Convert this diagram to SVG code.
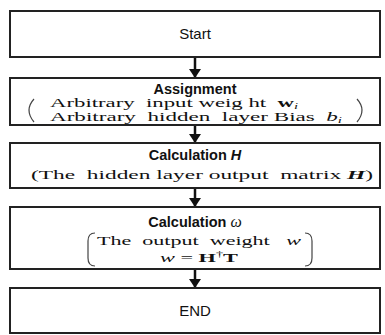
<svg xmlns="http://www.w3.org/2000/svg" width="385" height="335" viewBox="0 0 385 335">
<defs>
<marker id="ah" markerWidth="9" markerHeight="12" refX="9" refY="6" orient="auto" markerUnits="userSpaceOnUse">
<path d="M0,0 L9,6 L0,12 Z" fill="#111"/>
</marker>
</defs>
<style>
.box{fill:#fff;stroke:#222;stroke-width:2}
.sans{font-family:"Liberation Sans",Arial,sans-serif;fill:#111;text-anchor:middle}
.serif{font-family:"Liberation Serif","Times New Roman",serif;fill:#111;font-size:12.5px}
.b{font-weight:bold}
.conn{stroke:#111;stroke-width:2.5;fill:none}
.paren{stroke:#444;stroke-width:1.2;fill:none}
</style>
<g id="connectors">
<path class="conn" d="M195,57 V78" marker-end="url(#ah)"/>
<path class="conn" d="M195,125 V143" marker-end="url(#ah)"/>
<path class="conn" d="M195,188 V207" marker-end="url(#ah)"/>
<path class="conn" d="M195,269 V288" marker-end="url(#ah)"/>
</g>
<g id="start">
<rect class="box" x="10" y="11" width="370" height="46"/>
<text class="sans" x="195" y="39" font-size="15">Start</text>
</g>
<g id="assignment">
<rect class="box" x="10" y="78" width="370" height="47"/>
<text class="sans b" x="195" y="94" font-size="14.5">Assignment</text>
<path class="paren" d="M34,99 Q24,110 34,122"/>
<path class="paren" d="M357,99 Q367,110 357,122"/>
<text class="serif" x="50" y="107" textLength="248" lengthAdjust="spacingAndGlyphs" xml:space="preserve">Arbitrary  input weig ht  <tspan font-weight="bold">w</tspan><tspan font-style="italic" font-size="8" dy="2">i</tspan></text>
<text class="serif" x="50" y="121" textLength="292" lengthAdjust="spacingAndGlyphs" xml:space="preserve">Arbitrary  hidden  layer Bias  <tspan font-style="italic">b</tspan><tspan font-style="italic" font-size="8" dy="2">i</tspan></text>
</g>
<g id="calcH">
<rect class="box" x="10" y="143" width="370" height="45"/>
<text class="sans b" x="195" y="160" font-size="14.5">Calculation <tspan font-style="italic">H</tspan></text>
<text class="serif" x="31" y="179" font-size="13" textLength="342" lengthAdjust="spacingAndGlyphs" xml:space="preserve">(The  hidden layer output  matrix <tspan font-weight="bold" font-style="italic">H</tspan>)</text>
</g>
<g id="calcW">
<rect class="box" x="10" y="207" width="370" height="62"/>
<text class="sans b" x="195" y="227" font-size="14.5">Calculation <tspan font-family="Liberation Serif,serif" font-style="italic" font-weight="normal" font-size="16">ω</tspan></text>
<path class="paren" d="M95,233 Q88,233 88,241 L88,258 Q88,266 95,266"/>
<path class="paren" d="M305,233 Q312,233 312,241 L312,258 Q312,266 305,266"/>
<text class="serif" x="97" y="245" font-size="13" textLength="204" lengthAdjust="spacingAndGlyphs" xml:space="preserve">The  output  weight   <tspan font-style="italic">w</tspan></text>
<text class="serif" x="160" y="262" font-size="13" textLength="78" lengthAdjust="spacingAndGlyphs"><tspan font-style="italic">w</tspan> = <tspan font-weight="bold">H</tspan><tspan font-size="8" dy="-5">†</tspan><tspan font-weight="bold" dy="5">T</tspan></text>
</g>
<g id="end">
<rect class="box" x="10" y="288" width="370" height="45"/>
<text class="sans" x="195" y="316" font-size="15">END</text>
</g>
</svg>
